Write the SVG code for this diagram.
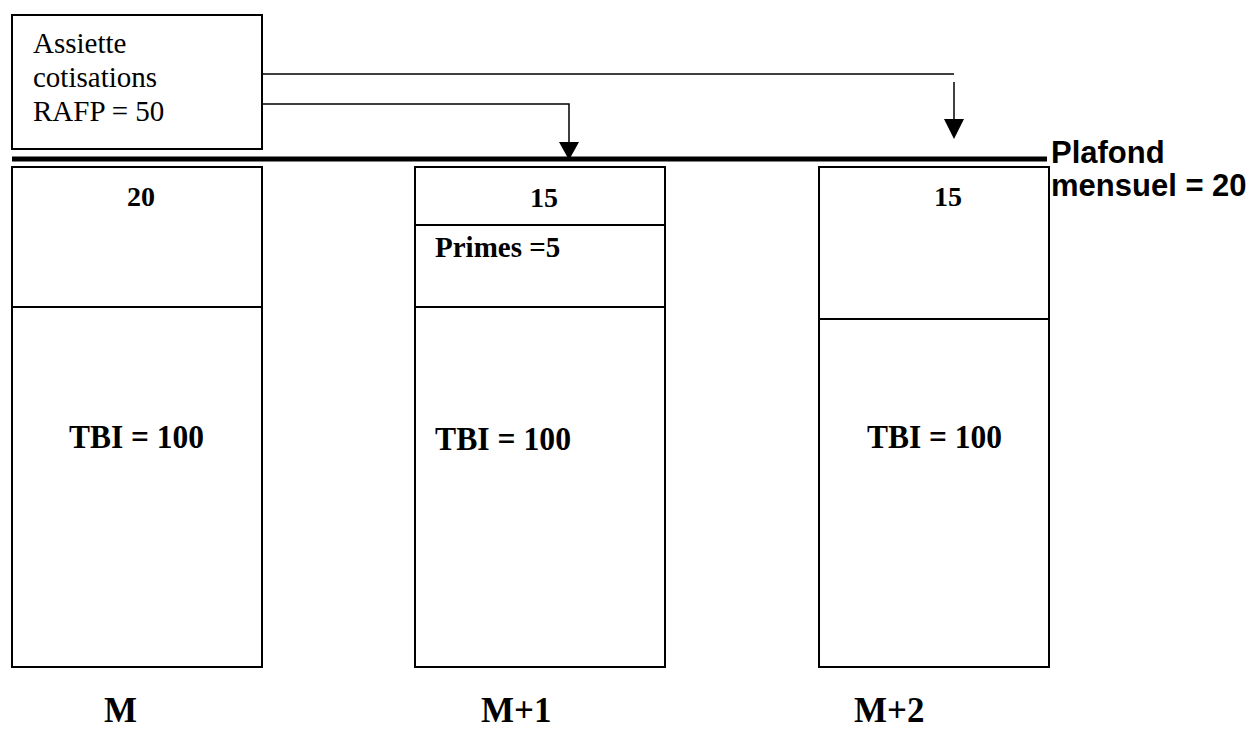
<svg xmlns="http://www.w3.org/2000/svg" width="1253" height="729" viewBox="0 0 1253 729">
<style>
.box{fill:#fff;stroke:#000;stroke-width:2}
.div{stroke:#000;stroke-width:2}
.conn{fill:none;stroke:#000;stroke-width:1.5}
.head{fill:#000}
.tr{font-family:"Liberation Serif","Times New Roman",serif;fill:#000}
.tb{font-family:"Liberation Serif","Times New Roman",serif;font-weight:bold;fill:#000}
.ab{font-family:"Liberation Sans",Arial,sans-serif;font-weight:bold;fill:#000}
</style>
<rect width="1253" height="729" fill="#fff"/>
<g id="assiette">
<rect class="box" x="12" y="15" width="250" height="134"/>
<text class="tr" font-size="29" x="33" y="53">Assiette</text>
<text class="tr" font-size="29" x="33" y="87">cotisations</text>
<text class="tr" font-size="29" x="33" y="121">RAFP = 50</text>
</g>
<g id="plafond">
<line x1="12" y1="159" x2="1047" y2="159" stroke="#000" stroke-width="5"/>
<text class="ab" font-size="31" x="1051" y="163">Plafond</text>
<text class="ab" font-size="31" x="1051" y="196">mensuel = 20</text>
</g>
<g id="col-m">
<rect class="box" x="12" y="167" width="250" height="500"/>
<line class="div" x1="12" y1="307" x2="262" y2="307"/>
<text class="tb" font-size="28" x="141" y="206" text-anchor="middle">20</text>
<text class="tb" font-size="33" x="69" y="448" textLength="135" lengthAdjust="spacingAndGlyphs">TBI = 100</text>
<text class="tb" font-size="35" x="104" y="722">M</text>
</g>
<g id="col-m1">
<rect class="box" x="415" y="167" width="250" height="500"/>
<line class="div" x1="415" y1="225" x2="665" y2="225"/>
<line class="div" x1="415" y1="307" x2="665" y2="307"/>
<text class="tb" font-size="28" x="544" y="207" text-anchor="middle">15</text>
<text class="tb" font-size="29" x="435" y="257">Primes =5</text>
<text class="tb" font-size="33" x="435" y="450" textLength="136" lengthAdjust="spacingAndGlyphs">TBI = 100</text>
<text class="tb" font-size="35" x="481" y="722">M+1</text>
</g>
<g id="col-m2">
<rect class="box" x="819" y="167" width="230" height="500"/>
<line class="div" x1="819" y1="319" x2="1049" y2="319"/>
<text class="tb" font-size="28" x="948" y="206" text-anchor="middle">15</text>
<text class="tb" font-size="33" x="867" y="448" textLength="135" lengthAdjust="spacingAndGlyphs">TBI = 100</text>
<text class="tb" font-size="35" x="854" y="722">M+2</text>
</g>
<g id="connectors">
<polyline class="conn" points="262,104 569,104 569,143"/>
<polygon class="head" points="559,142 579,142 569,160"/>
<line class="conn" x1="262" y1="74" x2="954" y2="74"/>
<line class="conn" x1="954" y1="82" x2="954" y2="120"/>
<polygon class="head" points="944,119 964,119 954,139"/>
</g>
</svg>
